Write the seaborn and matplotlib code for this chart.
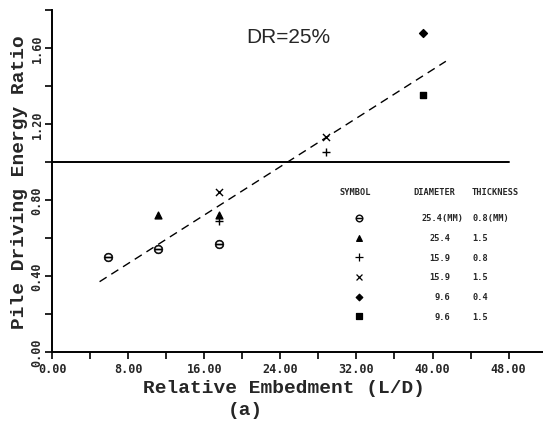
import matplotlib
matplotlib.use("Agg")
import matplotlib.pyplot as plt
import pandas as pd
import seaborn as sns

# pile groups: (diameter mm, wall thickness mm)
diameters = ["25.4", "25.4", "15.9", "15.9", "9.6", "9.6"]
thicknesses = ["0.8", "1.5", "0.8", "1.5", "0.4", "1.5"]
group_markers = [r"$\ominus$", "^", "+", "x", "D", "s"]
group_sizes = [40, 24, 40, 26, 16, 24]

# relative embedment L/D and energy ratio for each group
embed = [
    [5.9, 11.1, 17.6],
    [11.1, 17.6],
    [17.6, 28.8],
    [17.6, 28.8],
    [39.0],
    [39.0],
]
ratio = [
    [0.50, 0.54, 0.57],
    [0.72, 0.72],
    [0.69, 1.05],
    [0.84, 1.13],
    [1.68],
    [1.35],
]

# fitted trend and reference ratio line
fit_x = [5.0, 41.4]
fit_y = [0.37, 1.53]
ref_x = [0.0, 48.0]
ref_y = [1.0, 1.0]

x_ticks = [0, 8, 16, 24, 32, 40, 48]
y_ticks = [0.0, 0.4, 0.8, 1.2, 1.6]

rows = []
for i, (xs, ys) in enumerate(zip(embed, ratio)):
    for xv, yv in zip(xs, ys):
        rows.append({"group": i, "ld": xv, "ratio": yv})
df = pd.DataFrame(rows)

sns.set_theme(style="ticks")
plt.rcParams["font.family"] = ["Liberation Mono", "DejaVu Sans"]

fig = plt.figure(figsize=(5.43, 4.31), dpi=100)
ax = fig.add_axes([0.0958, 0.181, 0.904, 0.7935])

sns.lineplot(x=ref_x, y=ref_y, ax=ax, color="black", linewidth=1.4)
sns.lineplot(x=fit_x, y=fit_y, ax=ax, color="black", linewidth=1.0,
             linestyle=(0, (6, 4)))

for i in range(len(diameters)):
    sub = df[df["group"] == i]
    sns.scatterplot(data=sub, x="ld", y="ratio", ax=ax, marker=group_markers[i],
                    s=group_sizes[i], color="black", edgecolor="black",
                    linewidth=0.4 if i == 0 else 1.0, legend=False)

ax.set_xlim(0, 51.6)
ax.set_ylim(0, 1.8)
ax.set_xticks(x_ticks)
ax.set_xticklabels([f"{v:.2f}" for v in x_ticks])
ax.set_xticks([4, 12, 20, 28, 36, 44], minor=True)
ax.set_yticks(y_ticks)
ax.set_yticklabels([f"{v:.2f}" for v in y_ticks])
ax.set_yticks([0.2, 0.6, 1.0, 1.4, 1.8], minor=True)
sns.despine(ax=ax)
for side in ["left", "bottom"]:
    ax.spines[side].set_color("black")
    ax.spines[side].set_linewidth(1.4)
ax.tick_params(axis="both", which="both", direction="out", length=5,
               width=1.2, color="black", labelsize=8.5)
ax.tick_params(axis="x", pad=2)
ax.tick_params(axis="y", labelrotation=90, pad=1)
for lab in ax.get_xticklabels() + ax.get_yticklabels():
    lab.set_family("DejaVu Sans Mono")
    lab.set_fontweight("bold")
for lab in ax.get_yticklabels():
    lab.set_va("center")

ax.set_xlabel("Relative Embedment (L/D)", fontsize=14, fontweight="bold",
              labelpad=0)
ax.xaxis.set_label_coords(0.472, -0.079)
ax.set_ylabel("Pile Driving Energy Ratio", fontsize=14, fontweight="bold",
              labelpad=2)
fig.text(0.452, 0.048, "(a)", fontsize=14, fontweight="bold", ha="center",
         va="center")

ax.text(24.8, 1.66, "DR=25%", family="Liberation Sans", fontsize=15,
        ha="center", va="center")

# symbol table
tab = dict(transform=ax.transAxes, family="DejaVu Sans Mono",
           fontweight="bold", fontsize=6.2, va="center")
ax.text(0.617, 0.468, "SYMBOL", ha="center", **tab)
ax.text(0.737, 0.468, "DIAMETER", ha="left", **tab)
ax.text(0.855, 0.468, "THICKNESS", ha="left", **tab)
row_y0, row_dy = 0.392, 0.0575
for i in range(len(diameters)):
    yy = row_y0 - i * row_dy
    ax.scatter([0.626], [yy], transform=ax.transAxes, marker=group_markers[i],
               s=group_sizes[i] * 0.7, color="black",
               linewidths=0.4 if i == 0 else 0.9, clip_on=False)
    d = diameters[i] + ("(MM)" if i == 0 else "")
    t = thicknesses[i] + ("(MM)" if i == 0 else "")
    ax.text(0.752 if i == 0 else 0.768 + (0.012 if len(diameters[i]) < 4 else 0),
            yy, d, ha="left", **tab)
    ax.text(0.857, yy, t, ha="left", **tab)

fig.savefig("out.png", dpi=100)
plt.close(fig)
